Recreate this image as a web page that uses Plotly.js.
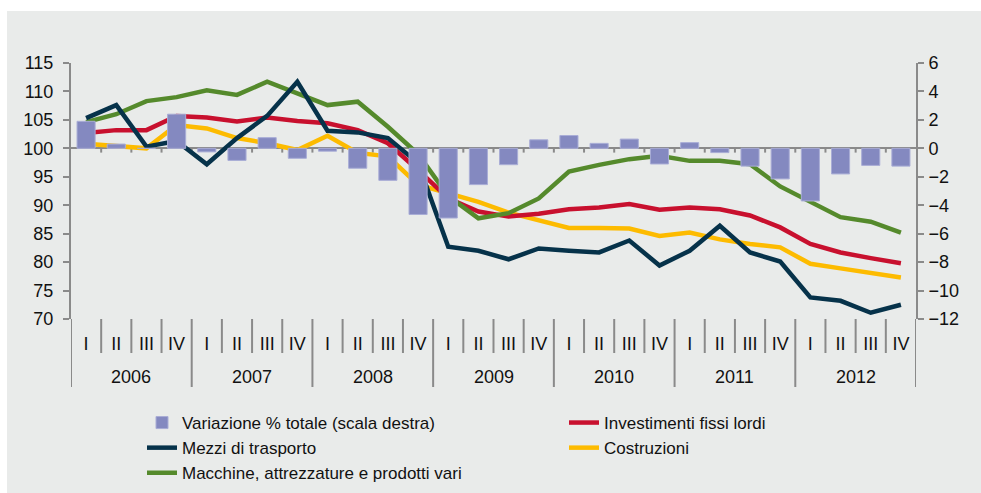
<!DOCTYPE html>
<html><head><meta charset="utf-8">
<script src="https://cdn.plot.ly/plotly-3.0.1.min.js"></script>
<style>
html,body{margin:0;padding:0;background:#ffffff;}
#bg{position:absolute;left:7px;top:11px;width:974px;height:482px;background:#e9ebea;}
#chart{position:absolute;left:7px;top:63px;width:974px;height:430px;}
#chart svg.main-svg{overflow:visible;}
</style>
</head><body><div id="bg"></div><div id="chart"></div>
<script>
const quarters = ['I','II','III','IV','I','II','III','IV','I','II','III','IV','I','II','III','IV','I','II','III','IV','I','II','III','IV','I','II','III','IV'];
const years = ['2006','2007','2008','2009','2010','2011','2012'];
const variazioneTotale = [1.9,0.3,0.0,2.4,-0.25,-0.85,0.75,-0.7,-0.2,-1.4,-2.25,-4.65,-4.9,-2.55,-1.15,0.6,0.9,0.35,0.65,-1.1,0.4,-0.3,-1.25,-2.15,-3.7,-1.8,-1.2,-1.25];
const investimenti = [102.7,103.2,103.2,105.7,105.4,104.7,105.4,104.8,104.4,103.2,100.9,96.2,91.2,88.9,88.0,88.5,89.3,89.6,90.2,89.2,89.6,89.3,88.2,86.1,83.2,81.7,80.7,79.8];
const mezzi = [105.3,107.6,100.3,101.3,97.2,101.8,105.7,111.7,103.1,102.8,101.8,97.4,82.7,82.0,80.5,82.4,82.0,81.7,83.8,79.4,82.0,86.4,81.7,80.1,73.8,73.2,71.1,72.5];
const costruzioni = [100.8,100.4,100.0,104.1,103.5,101.8,100.9,99.7,102.2,99.2,98.6,93.6,92.2,90.6,88.7,87.4,86.0,86.0,85.9,84.6,85.2,84.0,83.2,82.6,79.7,78.9,78.0,77.3];
const macchine = [104.6,106.0,108.3,109.0,110.2,109.4,111.7,109.7,107.6,108.2,103.8,99.0,91.6,87.7,88.6,91.2,95.9,97.1,98.1,98.7,97.8,97.8,97.2,93.3,90.6,87.9,87.1,85.2];

const xs = quarters.map((q, i) => i);
const font = 'Liberation Sans, Arial, sans-serif';
const axisGrey = '#8a8a8a';
const yRange = [70, 115];
const y2Range = [-12, 6];

const traces = [
  {type:'bar', x: xs, y: variazioneTotale, yaxis:'y2', name:'Variazione % totale (scala destra)',
   marker:{color:'#8489c0', line:{color:'#a9add6', width:1}}, legend:'legend', legendrank:1},
  {type:'scatter', mode:'lines', x: xs, y: mezzi, name:'Mezzi di trasporto',
   line:{color:'#06324a', width:4.5}, legend:'legend', legendrank:2},
  {type:'scatter', mode:'lines', x: xs, y: macchine, name:'Macchine, attrezzature e prodotti vari',
   line:{color:'#558a2c', width:4.5}, legend:'legend', legendrank:3},
  {type:'scatter', mode:'lines', x: xs, y: investimenti, name:'Investimenti fissi lordi',
   line:{color:'#c8102e', width:4.5}, legend:'legend2', legendrank:1},
  {type:'scatter', mode:'lines', x: xs, y: costruzioni, name:'Costruzioni',
   line:{color:'#fdbb00', width:4.5}, legend:'legend2', legendrank:2}
];
// draw order: bars, then costruzioni, investimenti, macchine, mezzi
const ordered = [traces[0], traces[4], traces[3], traces[2], traces[1]];

const plotH = 256;
const shapes = [];
for (let b = 0; b <= quarters.length; b++) {
  const isYear = b % 4 === 0;
  shapes.push({type:'line', xref:'x', yref:'paper', x0:b-0.5, x1:b-0.5, y0:0,
    y1: isYear ? -68/plotH : -34/plotH, line:{color:axisGrey, width:2}, layer:'below'});
  if (b > 0 && b < quarters.length) {
    shapes.push({type:'line', xref:'x', yref:'y2', x0:b-0.5, x1:b-0.5, y0:0, y1:-0.3,
      line:{color:axisGrey, width:2}, layer:'below'});
  }
}

const annotations = years.map((yr, k) => ({
  text: yr, xref:'x', yref:'paper', x: 4*k + 1.5, y: -58/plotH, yanchor:'middle',
  showarrow:false, font:{family:font, size:18, color:'#111'}
}));

const legendY = (319-405)/plotH;
const layout = {
  width: 974, height: 430,
  margin:{l:64, r:65, t:0, b:174},
  paper_bgcolor:'rgba(0,0,0,0)', plot_bgcolor:'rgba(0,0,0,0)',
  font:{family:font, size:18, color:'#111'},
  bargap: 0.4,
  showlegend: true,
  xaxis:{range:[-0.5, quarters.length-0.5], tickvals: xs, ticktext: quarters, ticks:'',
    showline:false, showgrid:false, zeroline:false, ticklabelstandoff: 12,
    tickfont:{family:font, size:18, color:'#111'}, fixedrange:true},
  yaxis:{range:yRange, dtick:5, showgrid:false, zeroline:false, showline:true, linecolor:axisGrey, linewidth:2,
    ticks:'outside', ticklen:6, tickwidth:2, tickcolor:axisGrey, ticklabelstandoff:6,
    ticklabeloverflow:'allow', tickfont:{family:font, size:18, color:'#111'}},
  yaxis2:{range:y2Range, dtick:2, overlaying:'y', side:'right', showgrid:false,
    zeroline:true, zerolinecolor:axisGrey, zerolinewidth:2,
    showline:true, linecolor:axisGrey, linewidth:2,
    ticks:'outside', ticklen:6, tickwidth:2, tickcolor:axisGrey, ticklabelstandoff:1,
    ticklabeloverflow:'allow', tickfont:{family:font, size:18, color:'#111'}},
  legend:{x:(142-71)/845, y:legendY, xanchor:'left', yanchor:'top', orientation:'v',
    bgcolor:'rgba(0,0,0,0)', font:{family:font, size:17, color:'#111'}, traceorder:'normal'},
  legend2:{x:(564-71)/845, y:legendY, xanchor:'left', yanchor:'top', orientation:'v',
    bgcolor:'rgba(0,0,0,0)', font:{family:font, size:17, color:'#111'}, traceorder:'normal'},
  shapes: shapes,
  annotations: annotations
};

Plotly.newPlot('chart', ordered, layout, {displayModeBar:false, staticPlot:true});
</script></body></html>
